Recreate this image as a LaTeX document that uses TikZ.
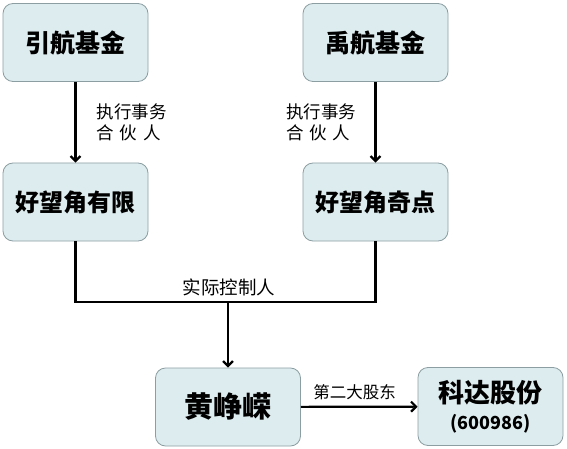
\documentclass[tikz,border=0pt]{standalone}
\usepackage{fontspec}
\newfontfamily\cjk{Noto Sans CJK SC}
\usetikzlibrary{arrows.meta}
\definecolor{boxfill}{RGB}{221,236,239}
\definecolor{boxline}{RGB}{140,158,162}

\begin{document}
\begin{tikzpicture}[x=1pt,y=-1pt,
    firm/.style={draw=boxline,line width=0.8pt,fill=boxfill,rounded corners=10pt,
        minimum width=145pt,minimum height=78pt,align=center,
        font=\cjk\bfseries\fontsize{25}{28}\selectfont},
    lbl/.style={align=left,inner sep=0pt,font=\cjk\fontsize{17.5}{21}\selectfont},
    link/.style={line width=2.2pt,-{Straight Barb[length=5pt,width=10pt]}},
    bar/.style={line width=2.2pt}]
\useasboundingbox (0,0) rectangle (567,449);
\node[firm] (yinhang) at (75.5,42.5) {引航基金};
\node[firm] (yuhang) at (375.5,42.5) {禹航基金};
\node[firm,font=\cjk\bfseries\fontsize{24}{28}\selectfont] (hwjyx) at (75.5,202) {好望角有限};
\node[firm,font=\cjk\bfseries\fontsize{24}{28}\selectfont] (hwjqd) at (375.5,202) {好望角奇点};
\node[firm,font=\cjk\bfseries\fontsize{29}{32}\selectfont] (huang) at (228,407) {黄峥嵘};
\node[firm,font=\cjk\bfseries\fontsize{26}{27}\selectfont] (keda) at (490.5,406.5)
    {科达股份\\{\fontsize{18}{20}\selectfont (600986)}};
\coordinate (junc) at (228,302);
\draw[link] (yinhang) -- (hwjyx);
\draw[link] (yuhang) -- (hwjqd);
\draw[bar] (hwjyx.south) |- (junc) -| (hwjqd.south);
\draw[link] (junc) -- (huang);
\draw[link] (huang) -- (keda);
\node[lbl] (zx1) at (131.5,122) {执行事务\\合\hspace{6pt}伙\hspace{6pt}人};
\node[lbl] (zx2) at (321,122) {执行事务\\合\hspace{6pt}伙\hspace{6pt}人};
\node[lbl,font=\cjk\fontsize{18.5}{21}\selectfont] (skzr) at (229,287) {实际控制人};
\node[lbl,font=\cjk\fontsize{16.5}{20}\selectfont] (degd) at (354.5,392) {第二大股东};
\end{tikzpicture}
\end{document}
